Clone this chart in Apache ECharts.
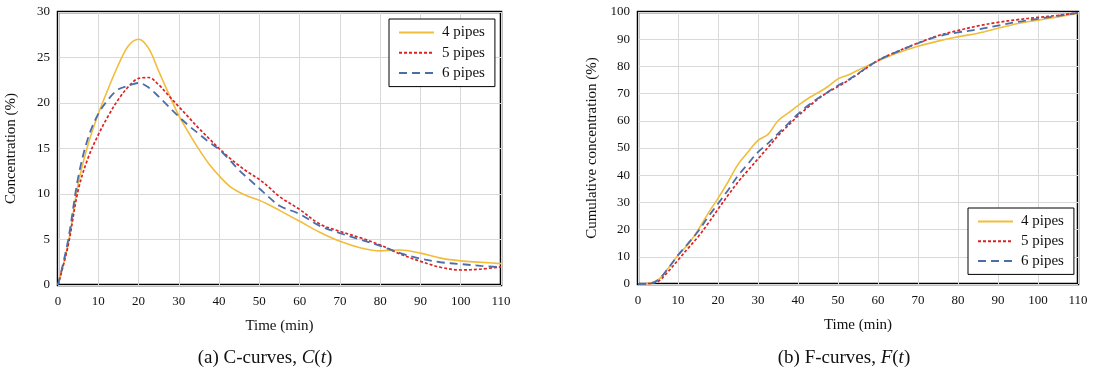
<!DOCTYPE html>
<html><head><meta charset="utf-8">
<script src="https://cdn.jsdelivr.net/npm/echarts@6/dist/echarts.min.js"></script>
<style>html,body{margin:0;padding:0;background:#fff}#c{width:1097px;height:374px}</style>
</head><body><div id="c"></div>
<script>
// Time points (min)
var times = [0,2.5,5,7.5,10,12.5,15,17.5,20,22.5,25,27.5,30,32.5,35,37.5,40,42.5,45,47.5,50,52.5,55,60,65,70,75,80,85,90,95,100,105,110];
var seriesNames = ['4 pipes','5 pipes','6 pipes'];
// C-curves (%)
var c4 = [0,4.5,11.1,15.5,18.8,21.6,24.2,26.3,27.0,26.0,23.5,21.0,18.6,16.7,14.9,13.3,12.0,10.9,10.2,9.7,9.3,8.8,8.2,7.0,5.8,4.8,4.1,3.75,3.85,3.5,2.95,2.65,2.5,2.35];
var c5 = [0,4.3,10.4,14.0,16.5,18.6,20.4,21.8,22.7,22.8,22.0,20.8,19.6,18.4,17.2,16.1,15.0,14.0,13.1,12.3,11.6,10.7,9.7,8.3,6.7,5.9,5.2,4.4,3.4,2.6,1.95,1.65,1.75,2.0];
var c6 = [0,4.9,11.8,16.2,18.8,20.4,21.5,21.9,22.2,21.7,20.7,19.6,18.5,17.5,16.6,15.7,14.9,13.8,12.6,11.6,10.6,9.6,8.7,7.8,6.5,5.7,5.0,4.3,3.5,2.9,2.5,2.3,2.1,1.95];
// F-curves (%)
var f4 = [0,0.2,1.5,5.7,10.6,14.5,19.8,25.9,31.5,37.5,44.0,48.5,52.8,55.0,60.0,62.8,65.6,68.2,70.3,72.6,75.4,76.8,78.6,82.0,85.0,87.4,89.3,90.9,92.2,94.0,95.8,97.0,98.2,99.5];
var f5 = [0,0.1,0.9,4.5,8.8,13.1,17.3,22.2,27.5,32.6,37.5,41.8,46.0,50.2,54.5,58.2,61.8,65.0,68.0,70.5,72.6,74.8,77.2,82.2,85.6,88.6,91.3,93.2,94.9,96.2,97.2,98.0,98.8,99.7];
var f6 = [0,0.1,1.5,5.7,10.6,14.9,19.3,24.6,29.5,34.5,39.8,44.2,48.5,51.7,55.3,58.9,62.5,65.6,68.3,70.6,73.0,75.0,77.4,82.2,85.5,88.5,91.0,92.5,93.6,95.0,96.4,97.5,98.6,99.7];
// Axis ticks
var xTicks = {min:0, max:110, interval:10};
var cTicks = {min:0, max:30, interval:5};
var fTicks = {min:0, max:100, interval:10};

function pairs(v){ return times.map(function(t,i){ return [t, v[i]]; }); }

var FONT = 'Liberation Serif';
var styles = [
  {color:'#F2BC3C', type:'solid', width:1.6},
  {color:'#DD2222', type:[3,2], width:1.7},
  {color:'#4A6EAA', type:[8,5], width:1.8}
];
function mkSeries(name, data, idx, s){
  return {name:name, type:'line', xAxisIndex:idx, yAxisIndex:idx, data:pairs(data),
    smooth:0.35, symbol:'none', lineStyle:{color:s.color, type:s.type, width:s.width},
    itemStyle:{color:s.color}, z: 3};
}
function xAxis(idx){
  return {type:'value', gridIndex:idx, min:xTicks.min, max:xTicks.max, interval:xTicks.interval,
    name:'Time (min)', nameLocation:'middle', nameGap:34,
    nameTextStyle:{fontFamily:FONT, fontSize:15, color:'#111'},
    axisLine:{show:false}, axisTick:{show:false},
    axisLabel:{fontFamily:FONT, fontSize:13, color:'#111', margin:10},
    splitLine:{show:true, lineStyle:{color:'#d9d9d9', width:1}}};
}
function yAxis(idx, t, name, gap){
  return {type:'value', gridIndex:idx, min:t.min, max:t.max, interval:t.interval,
    name:name, nameLocation:'middle', nameGap:gap, nameRotate:90,
    nameTextStyle:{fontFamily:FONT, fontSize:15, color:'#111'},
    axisLine:{show:false}, axisTick:{show:false},
    axisLabel:{fontFamily:FONT, fontSize:13, color:'#111', margin:8},
    splitLine:{show:true, lineStyle:{color:'#d9d9d9', width:1}}};
}
function legend(left, top, gap){
  return {data:seriesNames, orient:'vertical', left:left, top:top,
    itemWidth:35, itemHeight:14, itemGap:gap, padding:[6,10,6,9],
    borderColor:'#000', borderWidth:1, backgroundColor:'#fff',
    itemStyle:{opacity:0},
    textStyle:{fontFamily:FONT, fontSize:15, color:'#111', padding:[0,0,0,3]},
    selectedMode:false};
}
var chart = echarts.init(document.getElementById('c'), null, {renderer:'canvas'});
chart.setOption({
  animation:false,
  backgroundColor:'#fff',
  grid:[
    {left:58, right:596, top:12, bottom:89, show:true, borderColor:'#000', borderWidth:2.5, backgroundColor:'transparent'},
    {left:638, right:19, top:12, bottom:90, show:true, borderColor:'#000', borderWidth:2.5, backgroundColor:'transparent'}
  ],
  xAxis:[xAxis(0), xAxis(1)],
  yAxis:[yAxis(0, cTicks, 'Concentration (%)', 39), yAxis(1, fTicks, 'Cumulative concentration (%)', 38.5)],
  legend:[legend(389, 19, 5.3), legend(968, 208, 4.7)],
  series:[
    mkSeries(seriesNames[0], c4, 0, styles[0]),
    mkSeries(seriesNames[1], c5, 0, styles[1]),
    mkSeries(seriesNames[2], c6, 0, styles[2]),
    mkSeries(seriesNames[0], f4, 1, styles[0]),
    mkSeries(seriesNames[1], f5, 1, styles[1]),
    mkSeries(seriesNames[2], f6, 1, styles[2])
  ],
  graphic:[
    {type:'text', x:265, y:358, style:{text:'{n|(a) C-curves, }{i|C}{n|(}{i|t}{n|)}', align:'center', verticalAlign:'middle',
      rich:{n:{fontFamily:FONT, fontSize:19, fill:'#111', color:'#111'}, i:{fontFamily:FONT, fontSize:19, fontStyle:'italic', fill:'#111', color:'#111'}}}},
    {type:'text', x:844, y:358, style:{text:'{n|(b) F-curves, }{i|F}{n|(}{i|t}{n|)}', align:'center', verticalAlign:'middle',
      rich:{n:{fontFamily:FONT, fontSize:19, fill:'#111', color:'#111'}, i:{fontFamily:FONT, fontSize:19, fontStyle:'italic', fill:'#111', color:'#111'}}}}
  ]
});
</script></body></html>
